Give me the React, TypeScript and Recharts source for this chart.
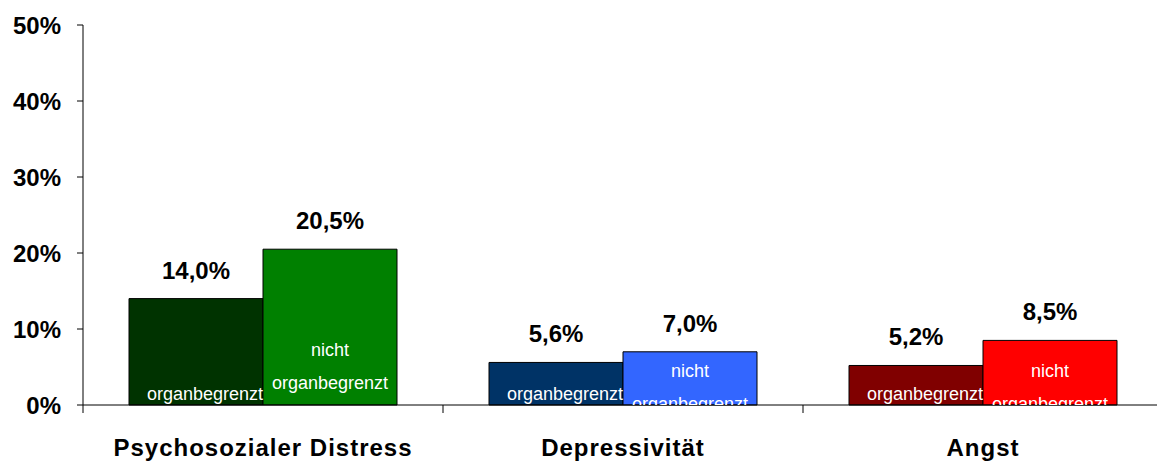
import { BarChart, Bar, Cell, XAxis, YAxis, LabelList } from 'recharts';

const CATEGORIES = ['Psychosozialer Distress', 'Depressivität', 'Angst'];
const ORGANBEGRENZT = [14.0, 5.6, 5.2];
const NICHT_ORGANBEGRENZT = [20.5, 7.0, 8.5];
const Y_TICKS = [0, 10, 20, 30, 40, 50];

const COLORS_ORGAN = ['#003300', '#003366', '#800000'];
const COLORS_NICHT = ['#008000', '#3366FF', '#FF0000'];
// how far the two-line label is lifted inside the bar
const NICHT_LIFT = [21, 0, 0];

const FONT = '"Liberation Sans", Arial, sans-serif';

const data = CATEGORIES.map((name, i) => ({
  name,
  organ: ORGANBEGRENZT[i],
  nicht: NICHT_ORGANBEGRENZT[i],
}));

const fmt = (v: number) => `${v.toFixed(1).replace('.', ',')}%`;

function ValueLabel(props: any) {
  const { x, y, width, value } = props;
  return (
    <text x={x + width / 2} y={y - 20} textAnchor="middle" fontFamily={FONT} fontWeight="bold" fontSize={24} fill="#000">
      {fmt(Number(value))}
    </text>
  );
}

function OrganLabel(props: any) {
  const { x, y, width, height, index } = props;
  const bottom = y + height;
  const id = `clip-organ-${index}`;
  return (
    <g>
      <defs>
        <clipPath id={id}>
          <rect x={x - 20} y={0} width={width + 40} height={bottom} />
        </clipPath>
      </defs>
      <text clipPath={`url(#${id})`} x={x + width / 2 + 9} y={bottom - 5} textAnchor="middle" fontFamily={FONT} fontSize={18} fill="#fff">
        organbegrenzt
      </text>
    </g>
  );
}

function NichtLabel(props: any) {
  const { x, y, width, height, index } = props;
  const bottom = y + height;
  const lift = NICHT_LIFT[index] ?? 0;
  const id = `clip-nicht-${index}`;
  return (
    <g>
      <defs>
        <clipPath id={id}>
          <rect x={x - 20} y={0} width={width + 40} height={bottom} />
        </clipPath>
      </defs>
      <g clipPath={`url(#${id})`} fontFamily={FONT} fontSize={18} fill="#fff" textAnchor="middle">
        <text x={x + width / 2} y={bottom - 28 - lift}>nicht</text>
        <text x={x + width / 2} y={bottom + 5 - lift}>organbegrenzt</text>
      </g>
    </g>
  );
}

function CategoryTick(props: any) {
  const { x, y, payload, index } = props;
  const half = payload?.offset || 180;
  const y0 = y - 8;
  return (
    <g>
      <line x1={x - half} y1={y0} x2={x - half} y2={y0 + 8} stroke="#000" />
      {index === CATEGORIES.length - 1 && <line x1={x + half} y1={y0} x2={x + half} y2={y0 + 8} stroke="#000" />}
      <text x={x} y={y0 + 51} textAnchor="middle" fontFamily={FONT} fontWeight="bold" fontSize={24} letterSpacing={1} fill="#000">
        {payload.value}
      </text>
    </g>
  );
}

export default function App() {
  return (
    <div style={{ margin: '-8px 0 0 -8px' }}>
      <BarChart width={1165} height={461} data={data} margin={{ top: 25, right: 2, left: 0, bottom: 0 }} barGap={0} barSize={134}>
        <XAxis dataKey="name" height={56} tickLine={false} axisLine={{ stroke: '#000' }} tick={<CategoryTick />} interval={0} />
        <YAxis
          width={83}
          domain={[0, 50]}
          ticks={Y_TICKS}
          tickFormatter={(v) => `${v}%`}
          tickSize={6}
          tickMargin={16}
          axisLine={{ stroke: '#000' }}
          tickLine={{ stroke: '#000' }}
          tick={{ fontFamily: FONT, fontWeight: 'bold', fontSize: 24, fill: '#000' }}
        />
        <Bar dataKey="organ" stroke="#000" strokeWidth={1} isAnimationActive={false}>
          {data.map((_, idx) => (
            <Cell key={idx} fill={COLORS_ORGAN[idx]} />
          ))}
          <LabelList dataKey="organ" content={<ValueLabel />} />
          <LabelList dataKey="organ" content={<OrganLabel />} />
        </Bar>
        <Bar dataKey="nicht" stroke="#000" strokeWidth={1} isAnimationActive={false}>
          {data.map((_, idx) => (
            <Cell key={idx} fill={COLORS_NICHT[idx]} />
          ))}
          <LabelList dataKey="nicht" content={<ValueLabel />} />
          <LabelList dataKey="nicht" content={<NichtLabel />} />
        </Bar>
      </BarChart>
    </div>
  );
}
